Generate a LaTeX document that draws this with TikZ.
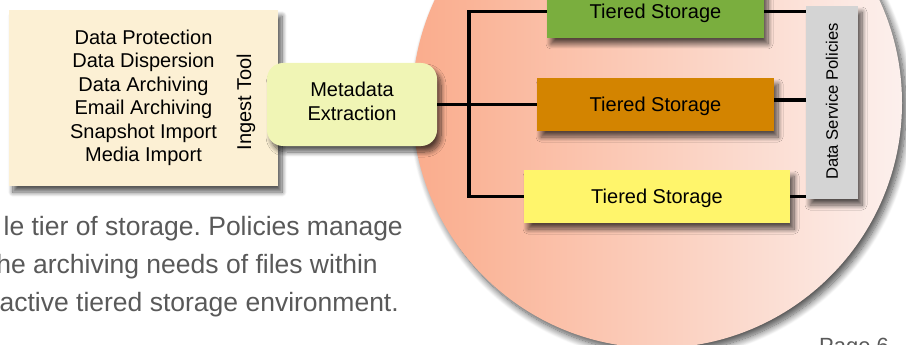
\documentclass[tikz,border=0pt]{standalone}
\usepackage{fontspec}
\setmainfont{Liberation Sans}
\usetikzlibrary{shadows.blur,calc}
\definecolor{cream}{RGB}{252,240,212}
\definecolor{metafill}{RGB}{240,245,181}
\definecolor{tgreen}{RGB}{122,174,62}
\definecolor{torange}{RGB}{211,132,0}
\definecolor{tyellow}{RGB}{255,245,107}
\definecolor{polgray}{RGB}{212,212,212}
\definecolor{circA}{RGB}{250,172,140}
\definecolor{circB}{RGB}{252,240,237}
\definecolor{bodygray}{RGB}{89,89,89}
\begin{document}
\frenchspacing
\begin{tikzpicture}[x=1pt,y=-1pt,
  sh/.style={blur shadow={shadow xshift=4pt, shadow yshift=-6pt, shadow blur radius=5pt, shadow blur steps=10, shadow opacity=65}},
  boxtext/.style={font=\fontsize{20}{23.5}\selectfont, inner sep=0pt, align=center},
  tier/.style={sh, rectangle, inner sep=0pt, minimum height=53pt, text height=14.4pt, text depth=0pt, font=\fontsize{20}{24}\selectfont},
  conn/.style={line width=3.2pt, black},
  body/.style={font=\fontsize{26.5}{30}\selectfont, text=bodygray, inner sep=0pt},
]
\useasboundingbox (0,0) rectangle (906,345);
\begin{scope}
\clip (0,0) rectangle (906,345);
% big circle
\path[blur shadow={shadow xshift=4pt, shadow yshift=-5pt, shadow blur radius=7pt, shadow blur steps=12, shadow opacity=70},
      left color=circA, right color=circB] (657,103) circle[radius=245pt];
% ingest box
\node[sh, fill=cream, minimum width=269pt, minimum height=176pt, boxtext] (ingest) at (143.5,98)
  {Data Protection\\Data Dispersion\\Data Archiving\\Email Archiving\\Snapshot Import\\Media Import};
\node[boxtext, rotate=90] (ingestlbl) at (246,102) {Ingest Tool};
% metadata
\node[sh, fill=metafill, rounded corners=16pt, minimum width=170pt, minimum height=83pt, inner sep=0pt] (meta) at (352,104.5) {};
\node[boxtext, anchor=north] (metatext) at (352,82) {Metadata\\Extraction};
% tiered storage
\node[tier, fill=tgreen, minimum width=217pt] (green) at (655.5,11.5) {Tiered Storage};
\node[tier, fill=torange, minimum width=237pt] (orange) at (655.5,104.5) {Tiered Storage};
\node[tier, fill=tyellow, minimum width=266pt] (yellow) at (657,196.5) {Tiered Storage};
% policies
\node[sh, fill=polgray, minimum width=52pt, minimum height=193pt, inner sep=0pt] (pol) at (832,102.5) {};
\node[font=\fontsize{16.6}{20}\selectfont, inner sep=0pt, rotate=90] (poltext) at (832,101.5) {Data Service Policies};
% connectors
\coordinate (trunk) at (469,104.5);
\draw[conn] (meta.east) -- (orange.west);
\draw[conn] (green.west) -| (trunk) |- (yellow.west);
\draw[conn] (green.east) -- (green.east -| pol.west);
\draw[conn] ([yshift=4.5pt]orange.east) -- ([yshift=4.5pt]orange.east -| pol.west);
\draw[conn] (yellow.east) -- (yellow.east -| pol.west);
% body text
\node[body, anchor=base east] (p1) at (403,235) {le tier of storage. Policies manage};
\node[body, anchor=base east] (p2) at (378,273) {he archiving needs of files within};
\node[body, anchor=base east] (p3) at (399,311) {active tiered storage environment.};
\node[font=\fontsize{22}{26}\selectfont, text=bodygray, inner sep=0pt, anchor=north west] (page) at (819,338) {Page 6};
\end{scope}
\end{tikzpicture}
\end{document}
